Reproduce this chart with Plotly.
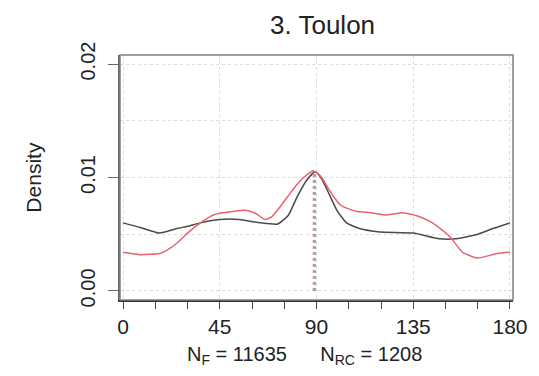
import plotly.graph_objects as go

# Circular density of orientations (degrees, 0-180)
angle_f = [0, 8, 17, 25, 30, 36, 45, 54, 64, 72, 77, 81, 85.6, 89.3, 92, 95, 99.5,
           104, 110, 119.5, 135, 147, 155, 165, 172, 180]
dens_f = [0.0060, 0.0056, 0.0051, 0.0055, 0.0057, 0.0060, 0.0063, 0.0063, 0.0060,
          0.0059, 0.0067, 0.0083, 0.0098, 0.0105, 0.0100, 0.0089, 0.0071,
          0.0060, 0.0055, 0.0052, 0.0051, 0.0046, 0.0046, 0.0050, 0.0055, 0.0060]

angle_rc = [0, 8, 17, 20.5, 25, 30, 36, 42, 51, 57.7, 62, 66, 69, 73, 77.7, 81, 84,
            88.5, 92, 95, 98, 101, 104, 109, 115, 123, 130, 137, 144, 152, 158,
            165, 174, 180]
dens_rc = [0.0034, 0.0032, 0.0033, 0.0036, 0.0042, 0.0051, 0.0060, 0.0067, 0.0070,
           0.0071, 0.0068, 0.0063, 0.0065, 0.0074, 0.0086, 0.0094, 0.0100,
           0.0106, 0.0101, 0.0092, 0.0083, 0.0076, 0.0073, 0.0070, 0.0069, 0.0067,
           0.0069, 0.0066, 0.0060, 0.0048, 0.0034, 0.0029, 0.0033, 0.0034]

x_ticks = [0, 45, 90, 135, 180]
y_ticks = [0.00, 0.01, 0.02]
y_tick_text = ["0.00", "0.01", "0.02"]

title_text = "3. Toulon"
n_f = 11635
n_rc = 1208

col_f = "#4a4a4a"
col_rc = "#e8636e"
font = "Liberation Sans, Arial, sans-serif"

fig = go.Figure()

fig.add_trace(go.Scatter(x=angle_f, y=dens_f, mode="lines",
                         line=dict(color=col_f, width=1.5, shape="spline", smoothing=0.5),
                         showlegend=False, hoverinfo="skip"))
fig.add_trace(go.Scatter(x=angle_rc, y=dens_rc, mode="lines",
                         line=dict(color=col_rc, width=1.5, shape="spline", smoothing=0.5),
                         showlegend=False, hoverinfo="skip"))

# Dotted drop lines at each mode
i_f = dens_f.index(max(dens_f))
i_rc = dens_rc.index(max(dens_rc))
fig.add_trace(go.Scatter(x=[angle_f[i_f], angle_f[i_f]], y=[0, dens_f[i_f]], mode="lines",
                         line=dict(color=col_f, width=1, dash="dot"),
                         showlegend=False, hoverinfo="skip"))
fig.add_trace(go.Scatter(x=[angle_rc[i_rc], angle_rc[i_rc]], y=[0, dens_rc[i_rc]], mode="lines",
                         line=dict(color=col_rc, width=1, dash="dot"),
                         showlegend=False, hoverinfo="skip"))

grid_col = "#dcdcdc"

fig.update_xaxes(
    range=[-1.4, 181.4], tickmode="array", tickvals=x_ticks,
    ticktext=[str(v) for v in x_ticks],
    ticks="outside", ticklen=7, tickwidth=1.2, tickcolor="#444",
    tickfont=dict(family=font, size=21, color="#222"),
    showgrid=True, gridcolor=grid_col, gridwidth=1, griddash="dot",
    minor=dict(tickvals=list(range(0, 181, 15)), ticks="outside", ticklen=7,
               tickwidth=1.2, tickcolor="#444", showgrid=False),
    showline=True, linecolor="#333", linewidth=2, zeroline=False,
    ticklabelstandoff=0,
)
fig.update_yaxes(
    range=[-0.0008, 0.0208], tickmode="array", tickvals=y_ticks, ticktext=y_tick_text,
    tickangle=-90, ticks="outside", ticklen=10, tickwidth=1.2, tickcolor="#666",
    tickfont=dict(family=font, size=20, color="#222"),
    showgrid=True, gridcolor=grid_col, gridwidth=1, griddash="dot",
    minor=dict(tickvals=[0.005, 0.015], showgrid=True, gridcolor=grid_col,
               griddash="dot", ticks=""),
    showline=True, linecolor="#666", linewidth=1.5, zeroline=False,
    ticklabelstandoff=5,
)

# Plot frame
fig.add_shape(type="rect", xref="paper", yref="paper", x0=0, y0=0, x1=1, y1=1,
              line=dict(color="#808080", width=1.5), layer="above")

fig.add_annotation(text=title_text, xref="paper", yref="paper", x=0.515, y=1.122,
                   xanchor="center", yanchor="middle", showarrow=False,
                   font=dict(family=font, size=26, color="#222"))
fig.add_annotation(text="Density", xref="paper", yref="paper", x=-0.221, y=0.5,
                   xanchor="center", yanchor="middle", textangle=-90, showarrow=False,
                   font=dict(family=font, size=21, color="#222"))
fig.add_annotation(text=f"N<sub>F</sub> = {n_f}      N<sub>RC</sub> = {n_rc}",
                   xref="paper", yref="paper", x=0.47, y=-0.225,
                   xanchor="center", yanchor="middle", showarrow=False,
                   font=dict(family=font, size=20, color="#222"))

fig.update_layout(
    width=539, height=376,
    margin=dict(l=120, r=26, t=55, b=76),
    paper_bgcolor="white", plot_bgcolor="white",
    showlegend=False,
)

fig.write_html("out.html")
